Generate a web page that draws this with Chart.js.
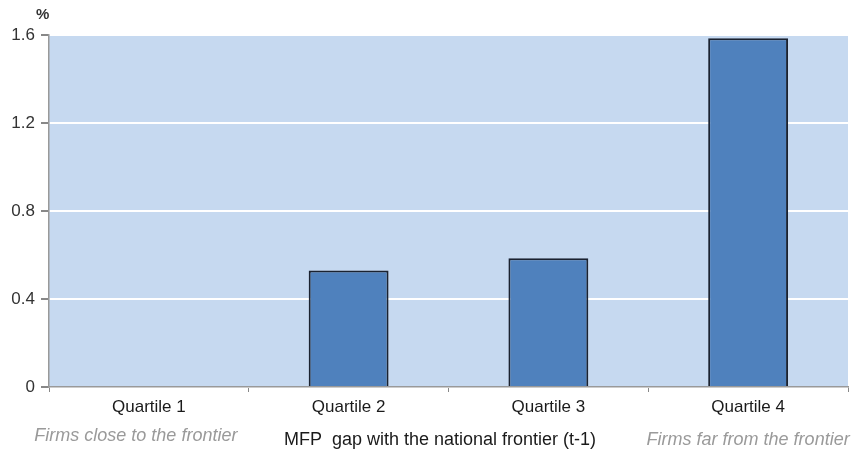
<!DOCTYPE html>
<html>
<head>
<meta charset="utf-8">
<script src="https://cdn.jsdelivr.net/npm/chart.js@4"></script>
<style>
  html, body { margin: 0; padding: 0; background: #ffffff; }
  #wrap { width: 855px; height: 451px; }
</style>
</head>
<body>
<div id="wrap"><canvas id="c" width="855" height="451"></canvas></div>
<script>
const categories = ["Quartile 1", "Quartile 2", "Quartile 3", "Quartile 4"];
const values = [null, 0.53, 0.585, 1.585];
const yTicks = [0, 0.4, 0.8, 1.2, 1.6];
const unitLabel = "%";
const axisTitle = "MFP  gap with the national frontier (t-1)";
const leftNote = "Firms close to the frontier";
const rightNote = "Firms far from the frontier";

const FONT = "'Liberation Sans', Arial, sans-serif";

const decor = {
  id: 'decor',
  beforeDraw(chart) {
    const { ctx, chartArea } = chart;
    ctx.save();
    ctx.fillStyle = '#c6d9f0';
    ctx.fillRect(chartArea.left, chartArea.top, chartArea.right - chartArea.left, chartArea.bottom - chartArea.top);
    ctx.restore();
  },
  afterDraw(chart) {
    const { ctx } = chart;
    const x = chart.scales.x;
    ctx.save();
    ctx.fillStyle = '#333333';
    ctx.font = "bold 15px " + FONT;
    ctx.textAlign = 'left';
    ctx.textBaseline = 'middle';
    ctx.fillText(unitLabel, 36, 15);

    ctx.font = "italic 18px " + FONT;
    ctx.fillStyle = '#9a9a9a';
    ctx.textAlign = 'center';
    ctx.fillText(leftNote, x.getPixelForValue(0) - 13, 436);
    ctx.fillText(rightNote, x.getPixelForValue(3), 440);

    ctx.font = "18px " + FONT;
    ctx.fillStyle = '#1a1a1a';
    ctx.fillText(axisTitle, 440, 440);
    ctx.restore();
  }
};

new Chart(document.getElementById('c'), {
  type: 'bar',
  data: {
    labels: categories,
    datasets: [{
      data: values,
      backgroundColor: '#4f81bd',
      borderColor: '#1a2230',
      borderWidth: 2,
      borderSkipped: 'bottom',
      barPercentage: 0.4,
      categoryPercentage: 1.0
    }]
  },
  options: {
    responsive: false,
    animation: false,
    devicePixelRatio: 1,
    layout: { padding: { top: 35, right: 7, left: 0, bottom: 0 } },
    plugins: { legend: { display: false }, tooltip: { enabled: false } },
    scales: {
      x: {
        offset: true,
        grid: { offset: true, drawOnChartArea: false, drawTicks: true, tickLength: 5, tickColor: '#888888' },
        border: { color: '#999999', width: 1.5 },
        ticks: { color: '#1a1a1a', font: { family: FONT, size: 17 }, padding: 5 },
        afterFit(s) { s.height = 64; }
      },
      y: {
        min: 0, max: 1.6,
        afterBuildTicks(s) { s.ticks = yTicks.map(v => ({ value: v })); },
        grid: { color: '#ffffff', lineWidth: 2, tickLength: 8, tickColor: '#888888' },
        border: { color: '#999999', width: 1.5 },
        ticks: { color: '#333333', font: { family: FONT, size: 17 }, padding: 6,
                 callback: v => (v === 0 ? '0' : v.toFixed(1)) },
        afterFit(s) { s.width = 49; }
      }
    }
  },
  plugins: [decor]
});
</script>
</body>
</html>
